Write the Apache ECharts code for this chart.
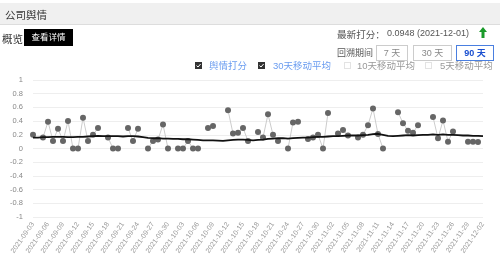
<!DOCTYPE html>
<html><head><meta charset="utf-8">
<script src="https://cdn.jsdelivr.net/npm/echarts@6/dist/echarts.min.js"></script>
<style>
html,body{margin:0;padding:0;width:500px;height:261px;overflow:hidden;background:#fff;font-family:"Liberation Sans","Noto Sans CJK SC",sans-serif;}
#chart{position:absolute;left:0;top:0;width:500px;height:261px;}
.ov{position:absolute;white-space:nowrap;}
#hdr{left:0;top:3px;width:500px;height:21px;background:#f0f0f0;border-bottom:1px solid #ddd;}
#hdr span{position:absolute;left:5px;top:4px;font-size:10.5px;color:#333;}
.btn{position:absolute;border:1px solid #ccc;font-size:9px;color:#888;text-align:center;line-height:14px;height:14px;box-sizing:content-box;}
.cb{position:absolute;width:7px;height:7px;box-sizing:border-box;}
.lg{position:absolute;font-size:9.5px;top:58px;}
</style></head>
<body>
<div id="chart"></div>
<div class="ov" id="hdr"><span>公司舆情</span></div>
<div class="ov" style="left:2px;top:31px;font-size:10.5px;color:#333;">概览</div>
<div class="ov" style="left:24px;top:29px;width:49px;height:17px;background:#000;color:#fff;font-size:8.5px;line-height:17px;text-align:center;">查看详情</div>
<div class="ov" style="left:337px;top:27px;font-size:9.6px;color:#555;">最新打分：</div>
<div class="ov" style="left:387px;top:27.5px;font-size:9px;color:#555;">0.0948 (2021-12-01)</div>
<svg class="ov" style="left:479px;top:27px;" width="8" height="11" viewBox="0 0 8 11"><path d="M4 0 L8 5 L5.5 5 L5.5 11 L2.5 11 L2.5 5 L0 5 Z" fill="#1a9a2a"/></svg>
<div class="ov" style="left:337px;top:46px;font-size:9px;color:#555;">回溯期间</div>
<div class="btn" style="left:376px;top:45px;width:30px;">7 天</div>
<div class="btn" style="left:413px;top:45px;width:37px;">30 天</div>
<div class="btn" style="left:456px;top:45px;width:36px;border-color:#4a7fe0;color:#1a4fd0;font-weight:bold;">90 天</div>
<div class="cb" style="left:195px;top:62px;background:#333;"><svg width="7" height="7" style="position:absolute;left:0;top:0"><path d="M1.5 3.6 L3 5 L5.6 2" stroke="#fff" stroke-width="1" fill="none"/></svg></div>
<div class="lg" style="left:209px;color:#6a9cf0;">舆情打分</div>
<div class="cb" style="left:258px;top:62px;background:#333;"><svg width="7" height="7" style="position:absolute;left:0;top:0"><path d="M1.5 3.6 L3 5 L5.6 2" stroke="#fff" stroke-width="1" fill="none"/></svg></div>
<div class="lg" style="left:273px;color:#6a9cf0;">30天移动平均</div>
<div class="cb" style="left:344px;top:62px;border:1px solid #e3e3e3;"></div>
<div class="lg" style="left:357px;color:#999;">10天移动平均</div>
<div class="cb" style="left:425px;top:62px;border:1px solid #e3e3e3;"></div>
<div class="lg" style="left:440px;color:#999;">5天移动平均</div>
<script>
const dates = [
"2021-09-03","2021-09-04","2021-09-05","2021-09-06","2021-09-07","2021-09-08","2021-09-09","2021-09-10","2021-09-11","2021-09-12",
"2021-09-13","2021-09-14","2021-09-15","2021-09-16","2021-09-17","2021-09-18","2021-09-19","2021-09-20","2021-09-21","2021-09-22",
"2021-09-23","2021-09-24","2021-09-25","2021-09-26","2021-09-27","2021-09-28","2021-09-29","2021-09-30","2021-10-01","2021-10-02",
"2021-10-03","2021-10-04","2021-10-05","2021-10-06","2021-10-07","2021-10-08","2021-10-09","2021-10-10","2021-10-11","2021-10-12",
"2021-10-13","2021-10-14","2021-10-15","2021-10-16","2021-10-17","2021-10-18","2021-10-19","2021-10-20","2021-10-21","2021-10-22",
"2021-10-23","2021-10-24","2021-10-25","2021-10-26","2021-10-27","2021-10-28","2021-10-29","2021-10-30","2021-10-31","2021-11-01",
"2021-11-02","2021-11-03","2021-11-04","2021-11-05","2021-11-06","2021-11-07","2021-11-08","2021-11-09","2021-11-10","2021-11-11",
"2021-11-12","2021-11-13","2021-11-14","2021-11-15","2021-11-16","2021-11-17","2021-11-18","2021-11-19","2021-11-20","2021-11-21",
"2021-11-22","2021-11-23","2021-11-24","2021-11-25","2021-11-26","2021-11-27","2021-11-28","2021-11-29","2021-11-30","2021-12-01",
"2021-12-02"];
const sentimentScore = [
0.20,null,0.16,0.39,0.11,0.29,0.11,0.40,0,0,
0.45,0.11,0.20,0.30,null,0.16,0,0,null,0.30,
0.11,0.29,null,0,0.11,0.13,0.35,0,null,0,
0,0.11,0,0,null,0.30,0.33,null,null,0.56,
0.22,0.23,0.30,0.11,null,0.24,0.16,0.50,0.20,0.11,
null,0,0.38,0.39,null,0.14,0.16,0.20,0,0.52,
null,0.22,0.27,0.19,null,0.16,0.20,0.34,0.585,0.21,
0,null,null,0.53,0.37,0.26,0.23,0.34,null,null,
0.46,0.15,0.41,0.10,0.25,null,null,0.10,0.10,0.0948,
null];
const ma30 = [
0.16,0.16,0.165,0.165,0.17,0.17,0.17,0.165,0.165,0.17,
0.17,0.175,0.18,0.185,0.18,0.18,0.18,0.18,0.175,0.18,
0.18,0.175,0.165,0.155,0.15,0.15,0.145,0.145,0.14,0.14,
0.135,0.135,0.13,0.125,0.12,0.12,0.12,0.115,0.11,0.12,
0.125,0.13,0.13,0.125,0.12,0.125,0.13,0.14,0.145,0.15,
0.15,0.145,0.15,0.155,0.16,0.16,0.165,0.17,0.17,0.175,
0.18,0.18,0.185,0.19,0.19,0.19,0.195,0.2,0.21,0.215,
0.2,0.185,0.18,0.185,0.19,0.195,0.19,0.195,0.2,0.2,
0.205,0.2,0.205,0.2,0.2,0.195,0.19,0.19,0.185,0.185,
0.18];
const yTicks = {min:-1,max:1,interval:0.2};

const chart = echarts.init(document.getElementById('chart'), null, {renderer:'canvas'});
chart.setOption({
  animation:false,
  grid:{left:33,right:17,top:80,bottom:44},
  xAxis:{type:'category',data:dates,boundaryGap:false,
    axisLine:{show:false},axisTick:{show:false},
    axisLabel:{interval:2,rotate:55,fontSize:7,color:'#999',margin:6}},
  yAxis:{type:'value',min:yTicks.min,max:yTicks.max,interval:yTicks.interval,
    axisLine:{show:false},axisTick:{show:false},
    splitLine:{lineStyle:{color:'#eeeeee',width:1}},
    axisLabel:{fontSize:7.5,color:'#888',margin:10,formatter:v=>String(Math.round(v*10)/10)}},
  series:[
    {name:'舆情打分',type:'line',data:sentimentScore,connectNulls:false,
     symbol:'circle',symbolSize:6,showAllSymbol:true,
     lineStyle:{color:'#cccccc',width:1},itemStyle:{color:'#666666'},z:2},
    {name:'30天移动平均',type:'line',data:ma30,symbol:'none',
     lineStyle:{color:'#111111',width:1.8},z:3}
  ]
});
</script>
</body></html>
